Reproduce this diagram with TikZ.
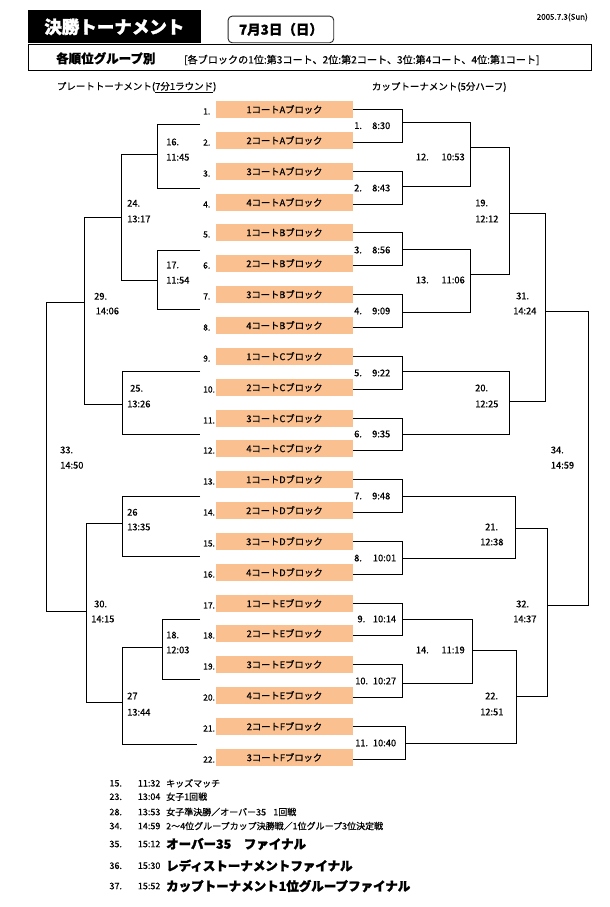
\documentclass[tikz,border=0pt]{standalone}
\usepackage{fontspec}
\setmainfont{Noto Sans CJK JP}[FakeBold=0.6, BoldFeatures={FakeBold=0.8}]
\newfontfamily\heavyfont{Noto Sans CJK JP}[BoldFeatures={FakeBold=1.6}]
\definecolor{peach}{HTML}{FAC090}
\tikzset{
  ln/.style={line width=1pt},
  blk/.style={fill=peach, minimum width=137pt, minimum height=16.7pt, inner sep=0pt, font=\fontsize{9.3}{10}\selectfont},
  lbl/.style={anchor=west, inner sep=0pt, font=\fontsize{9.3}{10}\selectfont},
  num/.style={anchor=west, inner sep=0pt, font=\fontsize{8.5}{10}\selectfont},
  listn/.style={anchor=west, inner sep=0pt, font=\fontsize{9}{10}\selectfont},
  listb/.style={anchor=west, inner sep=0pt, font=\fontsize{12.5}{14}\selectfont\heavyfont\bfseries},
}
\begin{document}
\begin{tikzpicture}[x=1pt,y=-1pt]
\useasboundingbox (0,0) rectangle (610,907);

% header
\node[fill=black, text=white, minimum width=173.7pt, minimum height=33.3pt, inner sep=0pt, anchor=north west, font=\fontsize{17.5}{20}\selectfont\heavyfont\bfseries] (title) at (27.3,10) {決勝トーナメント};
\node[draw=black!85, rounded corners=4pt, line width=0.9pt, minimum width=105.6pt, minimum height=26.6pt, inner sep=0pt, anchor=north west] (datebox) at (227.7,15.7) {};
\node[inner sep=0pt, font=\fontsize{13.5}{15}\selectfont\bfseries] (date) at (datebox.center) {7月3日（日）};
\node[anchor=east, inner sep=0pt, font=\fontsize{8}{9}\selectfont] (stamp) at (588,17.3) {2005.7.3(Sun)};
\node[draw, line width=1pt, minimum width=562.4pt, minimum height=26.3pt, inner sep=0pt, anchor=north west] (grp) at (28.3,44) {};
\node[anchor=west, inner sep=0pt, font=\fontsize{12.5}{14}\selectfont\bfseries] (grpt) at (56,58.3) {各順位グループ別};
\node[anchor=west, inner sep=0pt, font=\fontsize{10.1}{12}\selectfont] (grpn) at (184,60) {[各ブロックの1位:第3コート、2位:第2コート、3位:第4コート、4位:第1コート]};
\node[anchor=west, inner sep=0pt, font=\fontsize{9.5}{11}\selectfont] (plateh) at (56.7,87.3) {プレートトーナメント(\underline{7分1ラウンド})};
\node[anchor=west, inner sep=0pt, font=\fontsize{9.5}{11}\selectfont] (cuph) at (371.7,87) {カップトーナメント(5分ハーフ)};

% blocks
\foreach \t [count=\i] in {1コートAブロック,2コートAブロック,3コートAブロック,4コートAブロック,1コートBブロック,2コートBブロック,3コートBブロック,4コートBブロック,1コートCブロック,2コートCブロック,3コートCブロック,4コートCブロック,1コートDブロック,2コートDブロック,3コートDブロック,4コートDブロック,1コートEブロック,2コートEブロック,3コートEブロック,4コートEブロック,2コートFブロック,3コートFブロック}{
  \pgfmathsetmacro\yy{109.5+round((\i-1)*30.85)}
  \node[blk] (b\i) at (284.5,\yy) {\t};
  \node[num] (n\i) at (203,{\yy+2}) {\i.};
}

% cup bracket coordinates
\foreach \k/\cx/\cy in {1/402.5/122.5, 2/402.5/186.5, 3/402.5/249.5, 4/402.5/312.5, 5/402.5/371.5, 6/402.5/434.5, 7/402.5/496.5, 8/402.5/558.5, 9/402.5/619.5, 10/402.5/683.5, 11/405.5/743.5, 12/470.5/147.5, 13/470.5/274.5, 19/509.5/213.5, 20/509.5/401.5, 21/515.5/528.5, 14/472.5/650.5, 22/516.5/696.5, 31/545.5/311.5, 32/547.5/605.5, 34/588.5/458}{
  \coordinate (c\k) at (\cx,\cy);
}
\foreach \k in {1,...,11}{
  \pgfmathtruncatemacro\ka{2*\k-1}
  \pgfmathtruncatemacro\kb{2*\k}
  \draw[ln] (b\ka.east) -| (c\k) |- ([yshift=-2pt]b\kb.east);
}
\draw[ln] (c1) -| (c12) |- (c2);
\draw[ln] (c3) -| (c13) |- (c4);
\draw[ln] (c12) -| (c19) |- (c13);
\draw[ln] (c5) -| (c20) |- (c6);
\draw[ln] (c19) -| (c31) |- (c20);
\draw[ln] (c7) -| (c21) |- (c8);
\draw[ln] (c9) -| (c14) |- (c10);
\draw[ln] (c14) -| (c22) |- (c11);
\draw[ln] (c21) -| (c32) |- (c22);
\draw[ln] (c31) -| (c34) |- (c32);

% cup labels
\foreach \n/\x/\y/\t in {
  cn1/354/125.7/1., ct1/372/125.7/8:30,
  cn2/354/188/2., ct2/372/188/8:43,
  cn3/354/250/3., ct3/372/250/8:56,
  cn4/354/311/4., ct4/372/311/9:09,
  cn5/354/373/5., ct5/372/373/9:22,
  cn6/354/434/6., ct6/372/434/9:35,
  cn7/354/496/7., ct7/372/496/9:48,
  cn8/354/558/8., ct8/372.7/558/10:01,
  cn9/357.3/619/9., ct9/372.7/619/10:14,
  cn10/355/681/10., ct10/372.7/681/10:27,
  cn11/355/743/11., ct11/372.7/743/10:40,
  cn12/415.7/157/12., ct12/441.3/157/10:53,
  cn13/415.7/280/13., ct13/441.3/280/11:06,
  cn14/415.7/650/14., ct14/441.3/650/11:19,
  cn19/475/203/19., ct19/475/219/12:12,
  cn20/475/388/20., ct20/475/404/12:25,
  cn21/485/527/21., ct21/480/542/12:38,
  cn22/485/696/22., ct22/480/712/12:51,
  cn31/516/296/31., ct31/513/311/14:24,
  cn32/516/604/32., ct32/513/619/14:37,
  cn34/550.7/450/34., ct34/550.7/465.3/14:59}{
  \node[lbl] (\n) at (\x,\y) {\t};
}

% plate bracket coordinates
\foreach \k/\cx/\cy in {e16a/200/124.5, e16b/200/188.5, e17a/200/250.5, e17b/200/309.5, e25a/200/371.5, e25b/200/434.5, e26a/200/496.5, e26b/200/556.5, e18a/200/619.5, e18b/200/679.5, e27b/197/744.5, p16/157.5/154.5, p17/157.5/280.5, p24/121.5/217.5, p29/84.5/302.5, p25/122.5/404.5, p33/46.5/458, p26/122.5/523.5, p30/86.5/611.5, p18/162.5/647.5, p27/122.5/702.5}{
  \coordinate (\k) at (\cx,\cy);
}
\draw[ln] (e16a) -| (p16) |- (e16b);
\draw[ln] (e17a) -| (p17) |- (e17b);
\draw[ln] (p16) -| (p24) |- (p17);
\draw[ln] (e25a) -| (p25) |- (e25b);
\draw[ln] (p24) -| (p29) |- (p25);
\draw[ln] (e26a) -| (p26) |- (e26b);
\draw[ln] (e18a) -| (p18) |- (e18b);
\draw[ln] (p18) -| (p27) |- (e27b);
\draw[ln] (p26) -| (p30) |- (p27);
\draw[ln] (p29) -| (p33) |- (p30);

% plate labels
\foreach \n/\x/\y/\t in {
  pn16/166/142/16., pt16/166/157.3/11:45,
  pn17/166/265/17., pt17/166/280.3/11:54,
  pn24/127/203.3/24., pt24/127/219/13:17,
  pn29/94/296.3/29., pt29/95.5/311/14:06,
  pn25/130/388.3/25., pt25/127/404/13:26,
  pn33/60/450/33., pt33/60/465.3/14:50,
  pn26/127/512.3/26, pt26/127/527/13:35,
  pn30/94/604/30., pt30/91/619/14:15,
  pn18/166/635/18., pt18/166/650/12:03,
  pn27/127/696/27, pt27/127/712.3/13:44}{
  \node[lbl] (\n) at (\x,\y) {\t};
}

% bottom list
\node[listn] (l15n) at (109.3,783.3) {15.};
\node[listn] (l15t) at (137.7,783.3) {11:32};
\node[listn] (l15x) at (166,783.3) {キッズマッチ};
\node[listn] (l23n) at (109.3,796.7) {23.};
\node[listn] (l23t) at (137.7,796.7) {13:04};
\node[listn] (l23x) at (166,796.7) {女子1回戦};
\node[listn] (l28n) at (109.3,812) {28.};
\node[listn] (l28t) at (137.7,812) {13:53};
\node[listn] (l28x) at (166,812) {女子準決勝／オーバー35\hspace{0.8em}1回戦};
\node[listn] (l34n) at (109.3,826) {34.};
\node[listn] (l34t) at (137.7,826) {14:59};
\node[listn] (l34x) at (166,826) {2～4位グループカップ決勝戦／1位グループ3位決定戦};
\node[listn] (l35n) at (109.3,844) {35.};
\node[listn] (l35t) at (137.7,844) {15:12};
\node[listb] (l35x) at (166,844) {オーバー35　ファイナル};
\node[listn] (l36n) at (109.3,865.7) {36.};
\node[listn] (l36t) at (137.7,865.7) {15:30};
\node[listb] (l36x) at (166,865.7) {レディストーナメントファイナル};
\node[listn] (l37n) at (109.3,886) {37.};
\node[listn] (l37t) at (137.7,886) {15:52};
\node[listb] (l37x) at (166,886) {カップトーナメント1位グループファイナル};
\end{tikzpicture}
\end{document}
